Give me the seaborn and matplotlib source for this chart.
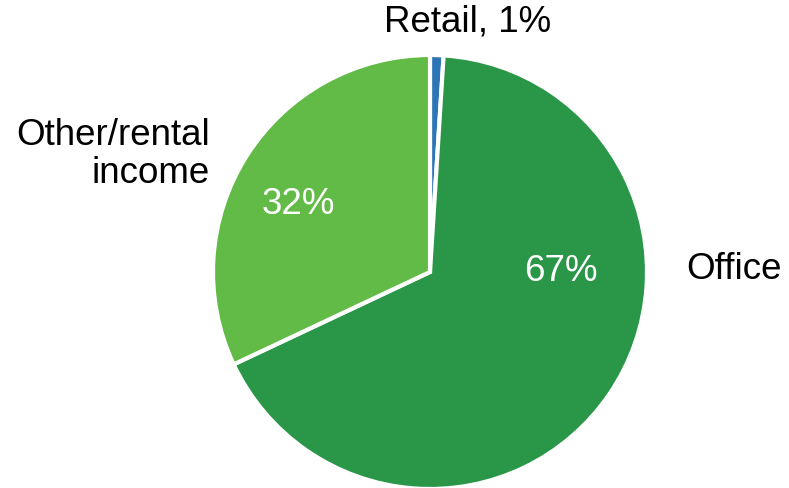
import matplotlib
matplotlib.use("Agg")
import matplotlib.pyplot as plt
import seaborn as sns

# data
segments = ["Retail", "Office", "Other/rental income"]
shares = [1, 67, 32]
seg_colors = ["#2E75B6", "#2A9648", "#62BB46"]

sns.set_style("white")
plt.rcParams["font.family"] = ["Liberation Sans", "DejaVu Sans"]

fig = plt.figure(figsize=(7.89, 4.88), dpi=100)
# pie centre at (430, 272) px, radius 217 px
r_px = 217
ax = fig.add_axes([(430 - r_px) / 789, (488 - 272 - r_px) / 488,
                   2 * r_px / 789, 2 * r_px / 488])

ax.pie(shares, colors=seg_colors, startangle=90, counterclock=False,
       radius=1, wedgeprops=dict(edgecolor="white", linewidth=3))
ax.set_xlim(-1, 1)
ax.set_ylim(-1, 1)
ax.set_aspect("equal")
ax.axis("off")

fs = 26.5
ax.text(0.175, 1.152, f"{segments[0]}, {shares[0]}%", ha="center", va="center",
        fontsize=fs, color="black")
ax.text(1.18, 0.01, segments[1], ha="left", va="center", fontsize=fs,
        color="black")
ax.text(-1.014, 0.54, "Other/rental\nincome", ha="right", va="center",
        fontsize=fs, linespacing=1.1, multialignment="right", color="black")
ax.text(-0.608, 0.309, f"{shares[2]}%", ha="center", va="center",
        fontsize=fs, color="white")
ax.text(0.604, 0.0, f"{shares[1]}%", ha="center", va="center",
        fontsize=fs, color="white")

fig.savefig("out.png", dpi=100)
